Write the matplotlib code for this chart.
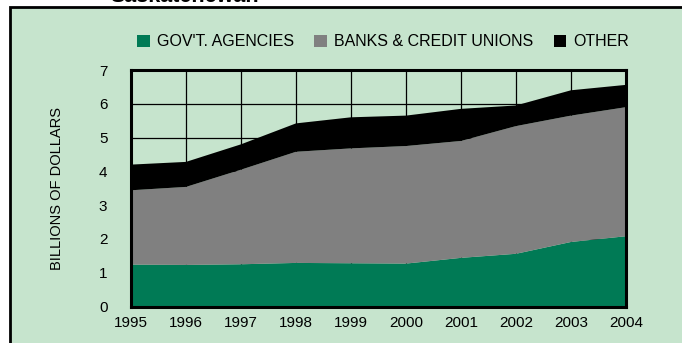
import matplotlib
matplotlib.use("Agg")
import matplotlib.pyplot as plt
from matplotlib.patches import Rectangle

years = [1995, 1996, 1997, 1998, 1999, 2000, 2001, 2002, 2003, 2004]
gov_agencies = [1.24, 1.23, 1.25, 1.29, 1.28, 1.27, 1.44, 1.56, 1.91, 2.08]
banks_credit_unions = [2.20, 2.31, 2.80, 3.29, 3.40, 3.48, 3.46, 3.78, 3.74, 3.82]
other = [0.76, 0.74, 0.75, 0.84, 0.92, 0.90, 0.95, 0.61, 0.75, 0.66]
labels = ["GOV'T. AGENCIES", "BANKS & CREDIT UNIONS", "OTHER"]
colors = ["#007a55", "#808080", "#000000"]
yticks = [0, 1, 2, 3, 4, 5, 6, 7]

plt.rcParams['font.family'] = ['Liberation Sans', 'DejaVu Sans']

W, H = 682, 343
fig = plt.figure(figsize=(W / 100, H / 100), dpi=100)
fig.patch.set_facecolor("white")

panel_bg = "#c6e4cd"
fig.patches.append(Rectangle((10 / W, -0.05), 1.0, (H - 7) / H + 0.05,
                             transform=fig.transFigure, facecolor=panel_bg,
                             edgecolor="black", linewidth=2.0, zorder=-5))

fig.text(110 / W, 1 + 4 / H, "Saskatchewan", fontsize=15.5, fontweight="bold",
         ha="left", va="center")

ax = fig.add_axes([131 / W, 1 - 306.5 / H, (626 - 131) / W, (306.5 - 70) / H])
ax.set_zorder(2)
ax.set_facecolor(panel_bg)
ax.stackplot(years, gov_agencies, banks_credit_unions, other,
             colors=colors, labels=labels, zorder=3, linewidth=0)
ax.set_xlim(years[0], years[-1])
ax.set_ylim(0, 7)
ax.set_xticks(years)
ax.set_yticks(yticks)
ax.grid(True, color="black", linewidth=0.9, zorder=1)
ax.set_axisbelow(True)
ax.tick_params(length=0, labelsize=11)
ax.tick_params(axis="x", pad=7)
ax.tick_params(axis="y", pad=17)
for s in ax.spines.values():
    s.set_linewidth(2.2)
    s.set_zorder(5)
ax.set_ylabel("BILLIONS OF DOLLARS", fontsize=10.5, labelpad=25)

leg = fig.legend(*ax.get_legend_handles_labels(), loc="center",
                 bbox_to_anchor=(383 / W, 1 - 42 / H), ncol=3, frameon=False,
                 fontsize=11.5, handlelength=0.8, handleheight=0.8,
                 handletextpad=0.4, columnspacing=1.3)
leg.set_zorder(3)

fig.savefig("out.png", dpi=100)
